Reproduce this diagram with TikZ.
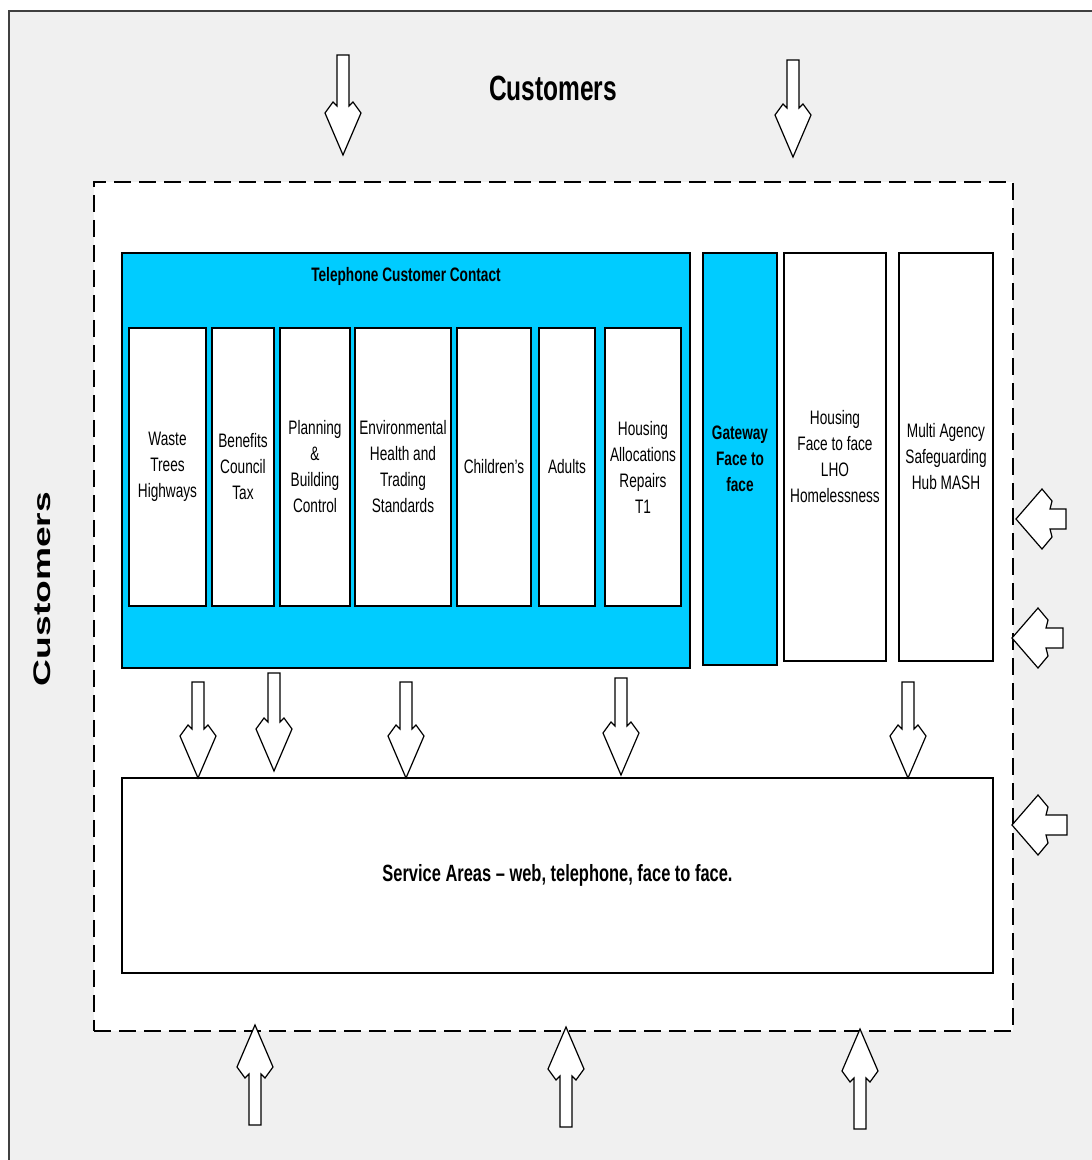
\documentclass[tikz,border=0pt]{standalone}
\usepackage{fontspec}
\setmainfont{Liberation Sans}
\newfontfamily\narrowfont[FakeStretch=0.7,Ligatures=TeX]{Liberation Sans}
\newfontfamily\wideFont[FakeStretch=1.55]{Liberation Sans}
\usetikzlibrary{positioning}
\definecolor{contact_blue}{RGB}{0,204,255}
\definecolor{page_grey}{RGB}{240,240,240}
\definecolor{frame_grey}{RGB}{64,64,64}

\begin{document}
\begin{tikzpicture}[x=1pt,y=-1pt,
      unitbox/.style={
         draw=black,
         fill=white,
         line width=1.6pt,
         align=center,
         inner sep=0pt,
         outer sep=0pt,
         minimum height=278pt,
         font=\narrowfont\fontsize{19.5}{26}\selectfont},
      tallbox/.style={
         unitbox,
         minimum height=408pt},
      contactbox/.style={
         draw=black,
         fill=contact_blue,
         line width=1.6pt,
         inner sep=0pt,
         outer sep=0pt},
      zonebox/.style={
         draw=black,
         fill=white,
         line width=1.8pt,
         dash pattern=on 17pt off 8pt,
         inner sep=0pt},
      blockarrow/.style={
         draw=black,
         fill=white,
         line width=1.2pt,
         line join=miter},
      pics/downarrow/.style={code={
         \draw[blockarrow] (0,0) -- (-18,-42) -- (-10,-53) -- (-6,-49) -- (-6,-#1)
            -- (6,-#1) -- (6,-49) -- (10,-53) -- (18,-42) -- cycle;}},
      pics/leftarrow/.style={code={
         \draw[blockarrow] (0,0) -- (26,-30) -- (36,-18) -- (34,-10) -- (#1,-10)
            -- (#1,10) -- (34,10) -- (36,18) -- (26,30) -- cycle;}},
      node distance=6pt,
      ]
      \useasboundingbox (0,0) rectangle (1092,1160);
      \clip (0,0) rectangle (1092,1160);
      % customers all round
      \fill[page_grey] (9,11) rectangle (1100,1170);
      \draw[frame_grey, line width=2pt] (9,1170) -- (9,11) -- (1100,11);

      \node[font=\narrowfont\bfseries\fontsize{35}{40}\selectfont] (custtop) at (553,88) {Customers};
      \node[rotate=90, font=\wideFont\bfseries\fontsize{24}{28}\selectfont] (custleft) at (42,589) {Customers};

      \node[zonebox, minimum width=919pt, minimum height=849pt, anchor=north west] (zone) at (93,181) {};

      % telephone contact
      \node[contactbox, minimum width=568pt, minimum height=415pt, anchor=north west] (contact) at (122,253) {};
      \node[font=\narrowfont\bfseries\fontsize{19.5}{22}\selectfont] (contacttitle) at (406,276) {Telephone Customer Contact};

      \node[unitbox, minimum width=77pt, anchor=north west] (waste) at (129,328) {Waste\\Trees\\Highways};
      \node[unitbox, minimum width=62pt, right=of waste] (benefits) {Benefits\\Council\\Tax};
      \node[unitbox, minimum width=70pt, right=of benefits] (planning) {Planning\\\&\\Building\\Control};
      \node[unitbox, minimum width=96pt, right=5pt of planning] (envhealth) {Environmental\\Health and\\Trading\\Standards};
      \node[unitbox, minimum width=74pt, right=of envhealth] (children) {Children's};
      \node[unitbox, minimum width=56pt, right=8pt of children] (adults) {Adults};
      \node[unitbox, minimum width=76pt, right=10pt of adults] (housingalloc) {Housing\\Allocations\\Repairs\\T1};

      % face to face
      \node[contactbox, minimum width=74pt, minimum height=412pt, right=13pt of contact.north east, anchor=north west,
            align=center, font=\narrowfont\bfseries\fontsize{19.5}{26}\selectfont] (gateway) {Gateway\\Face to\\face};
      \node[tallbox, minimum width=102pt, right=7pt of gateway.north east, anchor=north west] (housingf2f) {Housing\\Face to face\\LHO\\Homelessness};
      \node[tallbox, minimum width=94pt, right=13pt of housingf2f.north east, anchor=north west] (mash) {Multi Agency\\Safeguarding\\Hub MASH};

      % service areas
      \node[unitbox, minimum width=871pt, minimum height=195pt, anchor=north west,
            font=\narrowfont\bfseries\fontsize{23.5}{26}\selectfont] (service) at (122,778)
            {Service Areas \textendash{} web, telephone, face to face.};

      % arrows in
      \pic at (343,155) {downarrow=100};
      \pic at (793,157) {downarrow=97};
      \pic at (1016,519) {leftarrow=50};
      \pic at (1012,638) {leftarrow=51};
      \pic at (1012,825) {leftarrow=55};
      \pic[rotate=180] at (255,1025) {downarrow=100};
      \pic[rotate=180] at (566,1027) {downarrow=100};
      \pic[rotate=180] at (860,1029) {downarrow=100};

      % arrows down to service areas
      \pic at (198,778) {downarrow=96};
      \pic at (274,771) {downarrow=98};
      \pic at (406,778) {downarrow=96};
      \pic at (621,775) {downarrow=97};
      \pic at (908,778) {downarrow=96};
\end{tikzpicture}
\end{document}
